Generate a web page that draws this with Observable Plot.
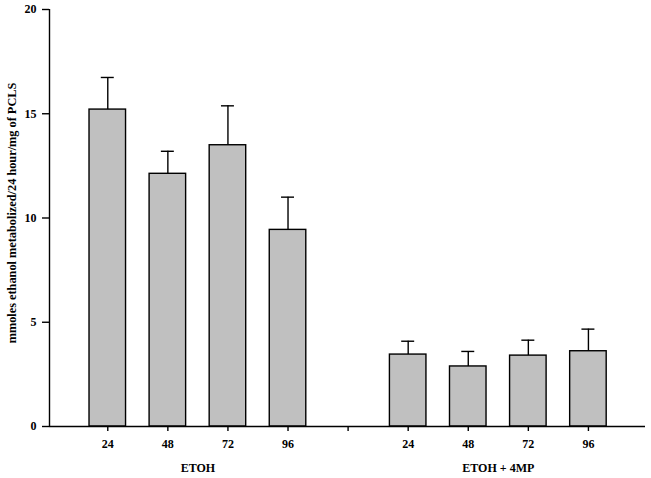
<!DOCTYPE html>
<html>
<head>
<meta charset="utf-8">
<script src="https://cdn.jsdelivr.net/npm/d3@7"></script>
<script src="https://cdn.jsdelivr.net/npm/@observablehq/plot@0.6"></script>
<style>
  html, body { margin: 0; padding: 0; background: #fff; }
</style>
</head>
<body>
<div id="chart"></div>
<script>
const hours = ["24", "48", "72", "96"];
const groups = ["ETOH", "ETOH + 4MP"];
const etohValues = [15.2, 12.12, 13.49, 9.43];
const etohErrors = [1.54, 1.08, 1.89, 1.57];
const mpValues = [3.45, 2.88, 3.4, 3.61];
const mpErrors = [0.64, 0.72, 0.74, 1.06];
const yTicks = [0, 5, 10, 15, 20];
const yLabel = "mmoles ethanol metabolized/24 hour/mg of PCLS";

// slot index for each bar; slot 4 is the gap between groups
const data = [];
hours.forEach((h, i) => data.push({group: groups[0], hour: h, slot: i, value: etohValues[i], err: etohErrors[i]}));
hours.forEach((h, i) => data.push({group: groups[1], hour: h, slot: i + 5, value: mpValues[i], err: mpErrors[i]}));

const tickSlots = d3.range(0, 9);
const tickLabels = tickSlots.map(s => s < 4 ? hours[s] : s === 4 ? "" : hours[s - 5]);
const groupLabels = groups.map((g, gi) => ({label: g, slot: gi === 0 ? 1.5 : 6.5}));

const font = "'Liberation Serif', 'Times New Roman', serif";
const halfBar = 0.304;
const halfCap = 0.108;
const xMin = -0.97, xMax = 8.95;

const chart = Plot.plot({
  width: 651,
  height: 478,
  marginLeft: 49,
  marginRight: 6,
  marginTop: 9,
  marginBottom: 52,
  style: {fontFamily: font, fontSize: "12px", fontWeight: "bold", color: "#000", background: "#fff"},
  x: {domain: [xMin, xMax]},
  y: {domain: [0, 20]},
  marks: [
    // error bars (upward only)
    Plot.ruleX(data, {x: "slot", y1: "value", y2: d => d.value + d.err, stroke: "#000", strokeWidth: 1.4}),
    Plot.ruleY(data, {y: d => d.value + d.err, x1: d => d.slot - halfCap, x2: d => d.slot + halfCap, stroke: "#000", strokeWidth: 1.4}),
    // bars
    Plot.rectY(data, {x1: d => d.slot - halfBar, x2: d => d.slot + halfBar, y1: 0, y2: "value", fill: "#c0c0c0", stroke: "#000", strokeWidth: 1.4}),
    // axes lines
    Plot.ruleY([0], {x1: xMin, x2: xMax, stroke: "#000", strokeWidth: 1.4}),
    Plot.ruleX([xMin], {y1: 0, y2: 20, stroke: "#000", strokeWidth: 1.4}),
    Plot.axisY({ticks: yTicks, tickSize: 7, tickPadding: 6, label: null, tickFormat: d => String(d), fontWeight: "bold", fontSize: 12, strokeWidth: 1.4}),
    Plot.axisX({ticks: tickSlots, tickSize: 5, tickPadding: 8, label: null, tickFormat: (d, i) => tickLabels[i], fontWeight: "bold", fontSize: 12, strokeWidth: 1.4}),
    // group labels
    Plot.text(groupLabels, {x: "slot", y: 0, text: "label", dy: 42, fontWeight: "bold", fontSize: 12, fill: "#000"}),
    // y label
    Plot.text([yLabel], {frameAnchor: "left", textAnchor: "middle", dx: -37, dy: -5, rotate: -90, text: d => d, fontWeight: "bold", fontSize: 12.3, fill: "#000"})
  ]
});
document.getElementById("chart").appendChild(chart);
</script>
</body>
</html>
